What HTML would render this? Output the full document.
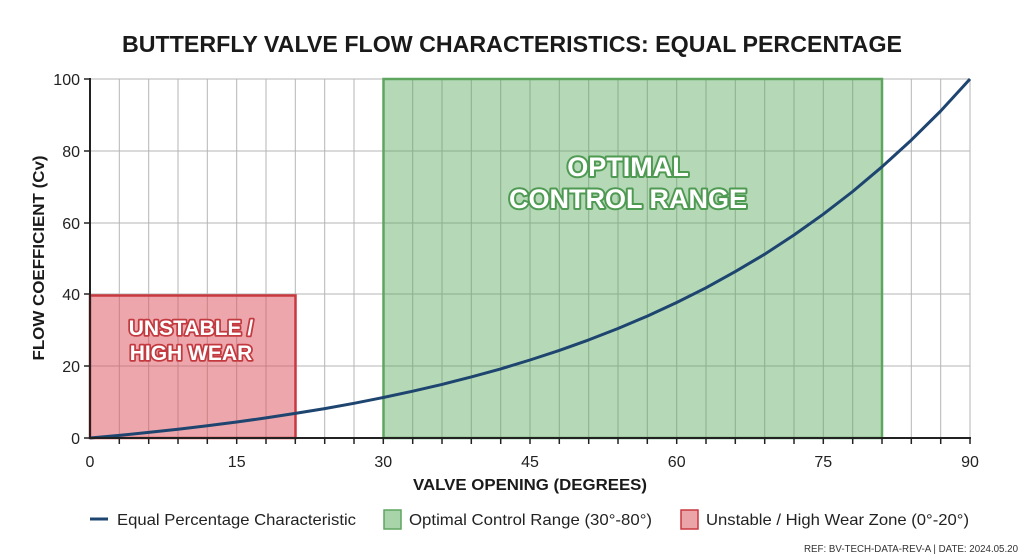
<!DOCTYPE html>
<html><head><meta charset="utf-8"><style>
html,body{margin:0;padding:0;background:#fff;}
svg{display:block;font-family:"Liberation Sans",sans-serif;}
</style></head><body>
<svg width="1024" height="559" viewBox="0 0 1024 559">
<text x="512" y="52" text-anchor="middle" font-size="23" font-weight="bold" fill="#1a1a1a" textLength="780" lengthAdjust="spacingAndGlyphs">BUTTERFLY VALVE FLOW CHARACTERISTICS: EQUAL PERCENTAGE</text>
<g stroke="#b5b5b5" stroke-width="1">
<line x1="119.3" y1="79" x2="119.3" y2="438"/><line x1="148.7" y1="79" x2="148.7" y2="438"/><line x1="178" y1="79" x2="178" y2="438"/><line x1="207.3" y1="79" x2="207.3" y2="438"/><line x1="236.7" y1="79" x2="236.7" y2="438"/><line x1="266" y1="79" x2="266" y2="438"/><line x1="295.3" y1="79" x2="295.3" y2="438"/><line x1="324.7" y1="79" x2="324.7" y2="438"/><line x1="354" y1="79" x2="354" y2="438"/><line x1="383.3" y1="79" x2="383.3" y2="438"/><line x1="412.7" y1="79" x2="412.7" y2="438"/><line x1="442" y1="79" x2="442" y2="438"/><line x1="471.3" y1="79" x2="471.3" y2="438"/><line x1="500.7" y1="79" x2="500.7" y2="438"/><line x1="530" y1="79" x2="530" y2="438"/><line x1="559.3" y1="79" x2="559.3" y2="438"/><line x1="588.7" y1="79" x2="588.7" y2="438"/><line x1="618" y1="79" x2="618" y2="438"/><line x1="647.3" y1="79" x2="647.3" y2="438"/><line x1="676.7" y1="79" x2="676.7" y2="438"/><line x1="706" y1="79" x2="706" y2="438"/><line x1="735.3" y1="79" x2="735.3" y2="438"/><line x1="764.7" y1="79" x2="764.7" y2="438"/><line x1="794" y1="79" x2="794" y2="438"/><line x1="823.3" y1="79" x2="823.3" y2="438"/><line x1="852.7" y1="79" x2="852.7" y2="438"/><line x1="882" y1="79" x2="882" y2="438"/><line x1="911.3" y1="79" x2="911.3" y2="438"/><line x1="940.7" y1="79" x2="940.7" y2="438"/><line x1="970" y1="79" x2="970" y2="438"/>
<line x1="90" y1="79" x2="970" y2="79"/><line x1="90" y1="151" x2="970" y2="151"/><line x1="90" y1="223" x2="970" y2="223"/><line x1="90" y1="294" x2="970" y2="294"/><line x1="90" y1="366" x2="970" y2="366"/>
</g>
<rect x="383.5" y="79" width="498.5" height="359" fill="rgba(90,170,95,0.45)" stroke="#5ea560" stroke-width="2.5"/>
<rect x="90" y="295.5" width="205.5" height="142.5" fill="rgba(220,80,90,0.5)" stroke="#c8383f" stroke-width="2.5"/>
<g font-weight="bold" text-anchor="middle" stroke-linejoin="round">
<text x="628" y="176" font-size="27" fill="#fff" stroke="#4e9a52" stroke-width="4" paint-order="stroke">OPTIMAL</text>
<text x="628" y="208" font-size="27" fill="#fff" stroke="#4e9a52" stroke-width="4" paint-order="stroke">CONTROL RANGE</text>
<text x="191" y="335" font-size="21" fill="#fff" stroke="#c23a40" stroke-width="3.5" paint-order="stroke">UNSTABLE /</text>
<text x="191" y="360" font-size="21" fill="#fff" stroke="#c23a40" stroke-width="3.5" paint-order="stroke">HIGH WEAR</text>
</g>
<polyline fill="none" stroke="#1e4570" stroke-width="3" stroke-linejoin="round" points="90,438 119.3,435.4 148.7,432.4 178,429.3 207.3,425.8 236.7,422 266,417.9 295.3,413.4 324.7,408.6 354,403.3 383.3,397.5 412.7,391.2 442,384.4 471.3,376.9 500.7,368.9 530,360 559.3,350.4 588.7,339.9 618,328.5 647.3,316.1 676.7,302.5 706,287.8 735.3,271.6 764.7,254.2 794,235 823.3,214.2 852.7,191.5 882,166.8 911.3,140.1 940.7,111 970,79"/>
<g stroke="#222" stroke-width="2">
<line x1="90" y1="78" x2="90" y2="439"/><line x1="89" y1="438" x2="971" y2="438"/>
</g>
<g stroke="#222" stroke-width="1.5">
<line x1="84" y1="79" x2="90" y2="79"/><line x1="84" y1="151" x2="90" y2="151"/><line x1="84" y1="223" x2="90" y2="223"/><line x1="84" y1="294" x2="90" y2="294"/><line x1="84" y1="366" x2="90" y2="366"/><line x1="84" y1="438" x2="90" y2="438"/>
<line x1="119.3" y1="438" x2="119.3" y2="444"/><line x1="148.7" y1="438" x2="148.7" y2="444"/><line x1="178" y1="438" x2="178" y2="444"/><line x1="207.3" y1="438" x2="207.3" y2="444"/><line x1="236.7" y1="438" x2="236.7" y2="444"/><line x1="266" y1="438" x2="266" y2="444"/><line x1="295.3" y1="438" x2="295.3" y2="444"/><line x1="324.7" y1="438" x2="324.7" y2="444"/><line x1="354" y1="438" x2="354" y2="444"/><line x1="383.3" y1="438" x2="383.3" y2="444"/><line x1="412.7" y1="438" x2="412.7" y2="444"/><line x1="442" y1="438" x2="442" y2="444"/><line x1="471.3" y1="438" x2="471.3" y2="444"/><line x1="500.7" y1="438" x2="500.7" y2="444"/><line x1="530" y1="438" x2="530" y2="444"/><line x1="559.3" y1="438" x2="559.3" y2="444"/><line x1="588.7" y1="438" x2="588.7" y2="444"/><line x1="618" y1="438" x2="618" y2="444"/><line x1="647.3" y1="438" x2="647.3" y2="444"/><line x1="676.7" y1="438" x2="676.7" y2="444"/><line x1="706" y1="438" x2="706" y2="444"/><line x1="735.3" y1="438" x2="735.3" y2="444"/><line x1="764.7" y1="438" x2="764.7" y2="444"/><line x1="794" y1="438" x2="794" y2="444"/><line x1="823.3" y1="438" x2="823.3" y2="444"/><line x1="852.7" y1="438" x2="852.7" y2="444"/><line x1="882" y1="438" x2="882" y2="444"/><line x1="911.3" y1="438" x2="911.3" y2="444"/><line x1="940.7" y1="438" x2="940.7" y2="444"/><line x1="970" y1="438" x2="970" y2="444"/>
</g>
<g font-size="16" fill="#222" text-anchor="end">
<text x="80" y="85">100</text><text x="80" y="157">80</text><text x="80" y="229">60</text><text x="80" y="300">40</text><text x="80" y="372">20</text><text x="80" y="444">0</text>
</g>
<g font-size="16" fill="#222" text-anchor="middle">
<text x="90" y="467">0</text><text x="236.7" y="467">15</text><text x="383.3" y="467">30</text><text x="530" y="467">45</text><text x="676.7" y="467">60</text><text x="823.3" y="467">75</text><text x="970" y="467">90</text>
</g>
<text x="530" y="490" text-anchor="middle" font-size="16" font-weight="bold" fill="#1a1a1a" textLength="234" lengthAdjust="spacingAndGlyphs">VALVE OPENING (DEGREES)</text>
<text transform="translate(44,258) rotate(-90)" text-anchor="middle" font-size="16" font-weight="bold" fill="#1a1a1a" textLength="205" lengthAdjust="spacingAndGlyphs">FLOW COEFFICIENT (Cv)</text>
<line x1="90" y1="519" x2="108" y2="519" stroke="#1e4570" stroke-width="3"/>
<text x="117" y="525" font-size="16" fill="#222" textLength="239" lengthAdjust="spacingAndGlyphs">Equal Percentage Characteristic</text>
<rect x="384" y="510" width="17" height="19" fill="#a9d3a9" stroke="#5ea560" stroke-width="1.5"/>
<text x="409" y="525" font-size="16" fill="#222" textLength="243" lengthAdjust="spacingAndGlyphs">Optimal Control Range (30°-80°)</text>
<rect x="681" y="510" width="17" height="19" fill="#eba4a8" stroke="#c8383f" stroke-width="1.5"/>
<text x="706" y="525" font-size="16" fill="#222" textLength="263" lengthAdjust="spacingAndGlyphs">Unstable / High Wear Zone (0°-20°)</text>
<text x="1018" y="552" text-anchor="end" font-size="10" fill="#333" textLength="214" lengthAdjust="spacingAndGlyphs">REF: BV-TECH-DATA-REV-A | DATE: 2024.05.20</text>
</svg>
</body></html>
